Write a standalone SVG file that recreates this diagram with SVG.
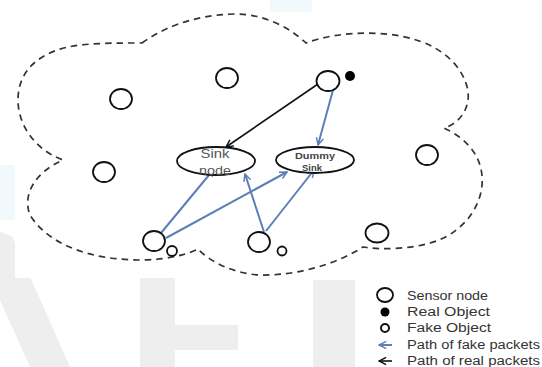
<svg xmlns="http://www.w3.org/2000/svg" width="542" height="367" viewBox="0 0 542 367">
<defs>
<style>
.sensor{fill:none;stroke:#111;stroke-width:1.8}
.fake{fill:none;stroke:#111;stroke-width:1.8}
.sink{fill:#fff;stroke:#111;stroke-width:1.8}
.blue{stroke:#5b7fb6;stroke-width:2;fill:none}
.black{stroke:#111;stroke-width:1.6;fill:none}
.cloud{fill:none;stroke:#333;stroke-width:1.7;stroke-dasharray:6.5 5}
.lg{font-family:"Liberation Sans",Arial,sans-serif;font-size:12.5px;fill:#333}
.wm{fill:#eeeeee}
.wb{fill:#f2f9fc}
</style>
<marker id="ab" viewBox="0 0 10 10" refX="9" refY="5" markerWidth="9" markerHeight="9" markerUnits="userSpaceOnUse" orient="auto">
<path d="M1,1 L9,5 L1,9" fill="none" stroke="#5b7fb6" stroke-width="1.6"/>
</marker>
<marker id="ak" viewBox="0 0 10 10" refX="9" refY="5" markerWidth="9" markerHeight="9" markerUnits="userSpaceOnUse" orient="auto">
<path d="M1,1 L9,5 L1,9" fill="none" stroke="#111" stroke-width="1.6"/>
</marker>
</defs>
<rect width="542" height="367" fill="#fff"/>
<g id="watermark">
<rect class="wb" x="270" y="0" width="42" height="12"/>
<rect class="wb" x="0" y="165" width="15" height="55"/>
<path class="wm" d="M0,232 L12,236 L70,367 L30,367 L0,300 Z"/>
<rect class="wm" x="140" y="278" width="35" height="89"/>
<rect class="wm" x="140" y="325" width="98" height="25"/>
<rect class="wm" x="313" y="280" width="42" height="87"/>
</g>
<rect x="15" y="12" width="455" height="266" fill="#fff"/>
<path id="cloud" class="cloud" d="M142,43 C160,30 190,15 235,14 C265,14 290,28 306,43 C340,30 400,28 435,48 C460,62 470,85 468,100 C466,115 455,125 444,128 C470,140 484,160 482,185 C480,210 460,235 430,243 C410,249 380,250 363,247 C340,262 300,276 260,275 C235,274 210,262 198,249 C180,258 150,262 120,259 C80,256 45,240 30,215 C22,195 35,172 63,160 C35,150 18,125 18,100 C18,70 40,50 80,45 C100,43 120,43 142,43 Z"/>
<g id="connectors">
<line class="black" x1="318" y1="84" x2="226" y2="147" marker-end="url(#ak)"/>
<line class="blue" x1="333" y1="90" x2="318" y2="145" marker-end="url(#ab)"/>
<line class="blue" x1="161" y1="233" x2="214" y2="169" marker-end="url(#ab)"/>
<line class="blue" x1="166" y1="238" x2="287" y2="172" marker-end="url(#ab)"/>
<line class="blue" x1="264" y1="232" x2="245" y2="174" marker-end="url(#ab)"/>
<line class="blue" x1="266" y1="231" x2="314" y2="170" marker-end="url(#ab)"/>
</g>
<g id="s1"><ellipse class="sensor" cx="227" cy="78" rx="11" ry="10"/></g>
<g id="s2"><ellipse class="sensor" cx="121" cy="99" rx="11" ry="10"/></g>
<g id="s3"><ellipse class="sensor" cx="328" cy="81" rx="11.5" ry="10"/></g>
<g id="s4"><ellipse class="sensor" cx="104" cy="172" rx="11" ry="10"/></g>
<g id="s5"><ellipse class="sensor" cx="427" cy="155" rx="11" ry="10"/></g>
<g id="s6"><ellipse class="sensor" cx="377" cy="233" rx="11.5" ry="9.5"/></g>
<g id="s7"><ellipse class="sensor" cx="154" cy="241" rx="11" ry="10"/></g>
<g id="s8"><ellipse class="sensor" cx="259" cy="242" rx="11" ry="10"/></g>
<g id="real"><circle cx="350" cy="76" r="5" fill="#000"/></g>
<g id="fake1"><circle class="fake" cx="172" cy="251" r="5"/></g>
<g id="fake2"><circle class="fake" cx="282" cy="251" r="4.5"/></g>
<g id="sinknode">
<ellipse class="sink" cx="216" cy="161" rx="39" ry="14"/>
<text x="215" y="158" text-anchor="middle" font-family="'Liberation Sans',Arial,sans-serif" font-size="12.5" fill="#555" textLength="29" lengthAdjust="spacingAndGlyphs">Sink</text>
<text x="215" y="175" text-anchor="middle" font-family="'Liberation Sans',Arial,sans-serif" font-size="12.5" fill="#555" textLength="32" lengthAdjust="spacingAndGlyphs">node</text>
</g>
<g id="dummysink">
<ellipse class="sink" cx="315" cy="160" rx="39" ry="13"/>
<text x="315" y="159" text-anchor="middle" font-family="'Liberation Sans',Arial,sans-serif" font-size="9" font-weight="bold" fill="#444" textLength="40" lengthAdjust="spacingAndGlyphs">Dummy</text>
<text x="312" y="171" text-anchor="middle" font-family="'Liberation Sans',Arial,sans-serif" font-size="9" font-weight="bold" fill="#444" textLength="20" lengthAdjust="spacingAndGlyphs">Sink</text>
</g>
<g id="legend">
<ellipse class="sensor" cx="385" cy="295" rx="8" ry="7"/>
<circle cx="385" cy="312" r="4.5" fill="#000"/>
<circle cx="385" cy="328" r="4" fill="none" stroke="#111" stroke-width="2"/>
<line x1="392" y1="345" x2="379" y2="345" class="blue" marker-end="url(#ab)"/>
<line x1="392" y1="361" x2="379" y2="361" class="black" marker-end="url(#ak)"/>
<text class="lg" x="407" y="300" textLength="81" lengthAdjust="spacingAndGlyphs">Sensor node</text>
<text class="lg" x="407" y="316" textLength="83" lengthAdjust="spacingAndGlyphs">Real Object</text>
<text class="lg" x="407" y="332" textLength="84" lengthAdjust="spacingAndGlyphs">Fake Object</text>
<text class="lg" x="407" y="349" textLength="133" lengthAdjust="spacingAndGlyphs">Path of fake packets</text>
<text class="lg" x="407" y="365" textLength="133" lengthAdjust="spacingAndGlyphs">Path of real packets</text>
</g>
</svg>
